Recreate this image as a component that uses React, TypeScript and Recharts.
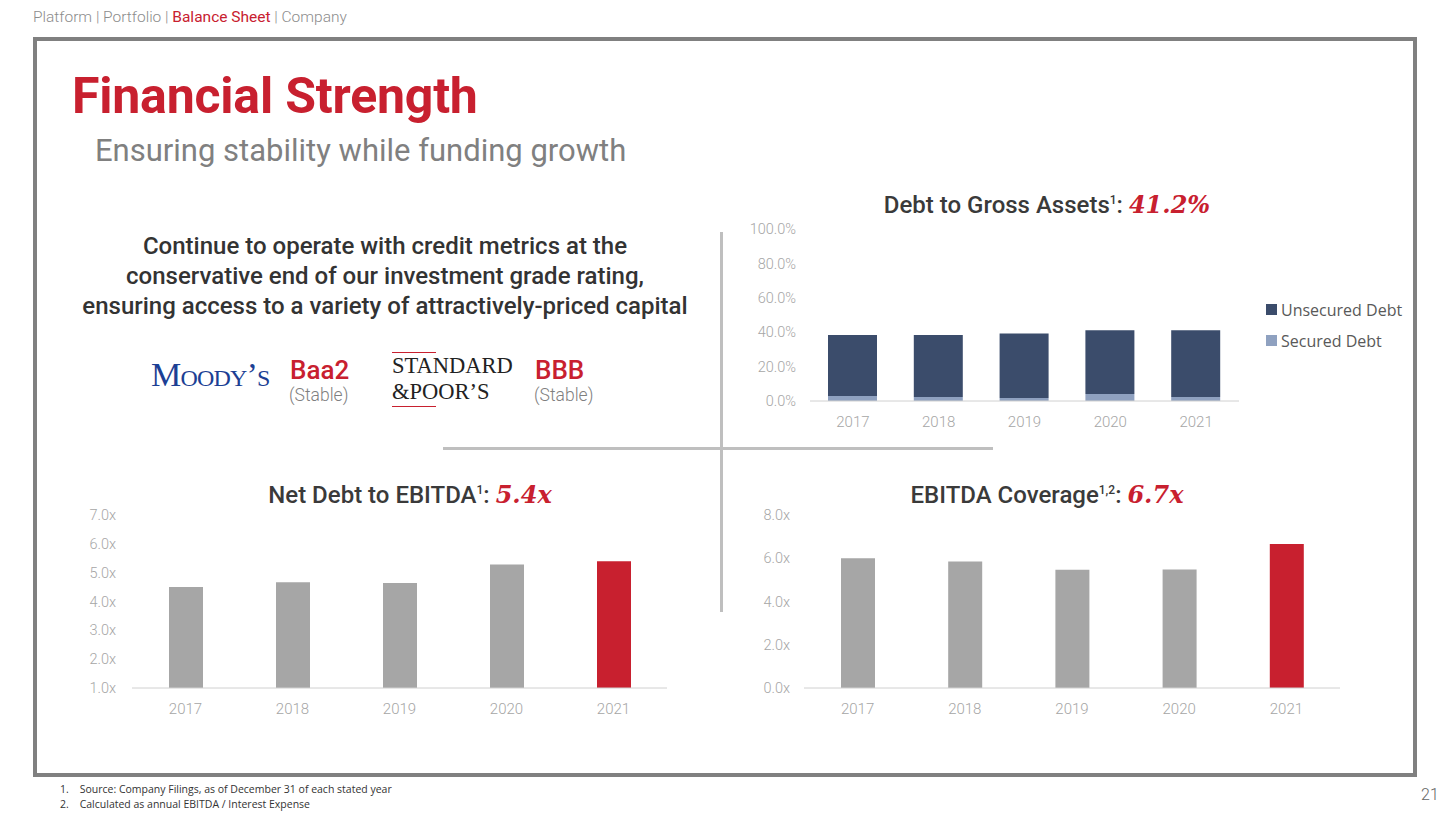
import React from 'react';
import { Bar, BarChart, Cell, Legend, XAxis, YAxis } from 'recharts';

const years = ['2017', '2018', '2019', '2020', '2021'];
// Debt to gross assets, %
const securedDebt = [2.9, 2.3, 1.8, 4.1, 2.3];
const unsecuredDebt = [35.4, 36.0, 37.5, 37.1, 38.9];
// Net debt to EBITDA, x
const netDebtToEbitda = [4.5, 4.67, 4.64, 5.28, 5.4];
// EBITDA coverage, x
const ebitdaCoverage = [6.0, 5.85, 5.47, 5.48, 6.66];

const pctTicks = [0, 20, 40, 60, 80, 100];
const leverageTicks = [1, 2, 3, 4, 5, 6, 7];
const coverageTicks = [0, 2, 4, 6, 8];

const RED = '#c8202f';
const GREY_BAR = '#a6a6a6';
const NAVY = '#3b4c6b';
const LIGHT_NAVY = '#8fa1c0';
const DIN = 'Roboto, "Noto Sans", sans-serif';

const debtData = years.map((year, i) => ({
  year,
  secured: securedDebt[i],
  unsecured: unsecuredDebt[i],
}));
const leverageData = years.map((year, i) => ({ year, value: netDebtToEbitda[i] }));
const coverageData = years.map((year, i) => ({ year, value: ebitdaCoverage[i] }));

const tickStyle = { fill: '#a6a6a6', fontSize: 14.5, fontFamily: DIN, fontWeight: 300 };
const xTickStyle = { fill: '#a6a6a6', fontSize: 15, fontFamily: DIN, fontWeight: 300 };

const pct = (v: number) => `${v.toFixed(1)}%`;
const times = (v: number) => `${v.toFixed(1)}x`;

function ChartTitle({ label, sup, value, x, y }: { label: string; sup: string; value: string; x: number; y: number }) {
  return (
    <div
      style={{
        position: 'absolute',
        left: x - 300,
        top: y,
        width: 600,
        textAlign: 'center',
        fontFamily: DIN,
        fontSize: 24,
        fontWeight: 500,
        color: '#3a3a3a',
        whiteSpace: 'nowrap',
      }}
    >
      {label}
      <sup style={{ fontSize: 12 }}>{sup}</sup>:{' '}
      <span
        style={{
          fontFamily: '"DejaVu Serif", "Liberation Serif", serif',
          fontStyle: 'italic',
          fontWeight: 700,
          color: RED,
          fontSize: 24,
        }}
      >
        {value}
      </span>
    </div>
  );
}

function DebtLegend(props: any) {
  const items = [...(props.payload || [])].reverse();
  return (
    <div style={{ fontFamily: '"Open Sans", sans-serif', fontSize: 16, color: '#595959' }}>
      {items.map((item: any) => (
        <div key={item.value} style={{ display: 'flex', alignItems: 'center', height: 31 }}>
          <span style={{ width: 11, height: 11, background: item.color, marginRight: 4 }} />
          {item.value}
        </div>
      ))}
    </div>
  );
}

export default function App() {
  return (
    <div
      style={{
        position: 'absolute',
        left: 0,
        top: 0,
        width: 1451,
        height: 813,
        background: '#fff',
        fontFamily: DIN,
        overflow: 'hidden',
      }}
    >
      {/* top nav */}
      <div style={{ position: 'absolute', left: 33, top: 8, fontSize: 15.5, color: '#8c8c8c', fontWeight: 300 }}>
        Platform | Portfolio | <span style={{ color: RED, fontWeight: 400 }}>Balance Sheet</span> | Company
      </div>

      {/* frame */}
      <div
        style={{
          position: 'absolute',
          left: 33,
          top: 37,
          width: 1376,
          height: 732,
          border: '4px solid #808080',
        }}
      />

      <div style={{ position: 'absolute', left: 72, top: 67, fontSize: 50, fontWeight: 700, color: RED, letterSpacing: -0.2 }}>
        Financial Strength
      </div>
      <div style={{ position: 'absolute', left: 95, top: 132, fontSize: 31, fontWeight: 400, color: '#808080' }}>
        Ensuring stability while funding growth
      </div>

      <div
        style={{
          position: 'absolute',
          left: 45,
          top: 231,
          width: 680,
          textAlign: 'center',
          fontSize: 24,
          fontWeight: 500,
          color: '#333',
          lineHeight: '30px',
        }}
      >
        Continue to operate with credit metrics at the
        <br />
        conservative end of our investment grade rating,
        <br />
        ensuring access to a variety of attractively-priced capital
      </div>

      {/* ratings */}
      <div
        style={{
          position: 'absolute',
          left: 151,
          top: 356,
          fontFamily: '"Liberation Serif", serif',
          fontVariant: 'small-caps',
          fontSize: 34,
          color: '#1c3f94',
          letterSpacing: -0.8,
        }}
      >
        Moody’s
      </div>
      <div style={{ position: 'absolute', left: 290, top: 355, fontSize: 26, fontWeight: 500, color: RED }}>Baa2</div>
      <div style={{ position: 'absolute', left: 289, top: 385, fontSize: 17.5, fontWeight: 300, color: '#7f7f7f' }}>(Stable)</div>

      <div style={{ position: 'absolute', left: 392, top: 352, width: 44, height: 1, background: RED }} />
      <div
        style={{
          position: 'absolute',
          left: 392,
          top: 353,
          fontFamily: '"Liberation Serif", serif',
          fontSize: 22.5,
          lineHeight: '26px',
          color: '#222',
        }}
      >
        STANDARD
        <br />
        &amp;POOR’S
      </div>
      <div style={{ position: 'absolute', left: 392, top: 406, width: 44, height: 1, background: RED }} />
      <div style={{ position: 'absolute', left: 535, top: 355, fontSize: 26, fontWeight: 500, color: RED }}>BBB</div>
      <div style={{ position: 'absolute', left: 534, top: 385, fontSize: 17.5, fontWeight: 300, color: '#7f7f7f' }}>(Stable)</div>

      {/* dividers */}
      <div style={{ position: 'absolute', left: 720, top: 232, width: 3, height: 380, background: '#bfbfbf' }} />
      <div style={{ position: 'absolute', left: 443, top: 447, width: 550, height: 3, background: '#bfbfbf' }} />

      {/* Debt to gross assets */}
      <ChartTitle label="Debt to Gross Assets" sup="1" value="41.2%" x={1047} y={190} />
      <div style={{ position: 'absolute', left: 730, top: 190 }}>
        <BarChart width={680} height={250} data={debtData} margin={{ top: 39, right: 171, left: 0, bottom: 0 }}>
          <XAxis
            dataKey="year"
            tickLine={false}
            axisLine={{ stroke: '#d0d0d0' }}
            tick={xTickStyle}
            tickMargin={9}
            height={39}
          />
          <YAxis
            domain={[0, 100]}
            ticks={pctTicks}
            tickFormatter={pct}
            tickLine={false}
            axisLine={false}
            tick={tickStyle}
            tickMargin={8}
            width={80}
          />
          <Legend
            layout="vertical"
            align="center"
            verticalAlign="middle"
            content={DebtLegend}
            wrapperStyle={{ left: 536, top: 104, width: 150 }}
          />
          <Bar dataKey="secured" name="Secured Debt" stackId="debt" fill={LIGHT_NAVY} barSize={49} isAnimationActive={false} />
          <Bar dataKey="unsecured" name="Unsecured Debt" stackId="debt" fill={NAVY} barSize={49} isAnimationActive={false} />
        </BarChart>
      </div>

      {/* Net debt to EBITDA */}
      <ChartTitle label="Net Debt to EBITDA" sup="1" value="5.4x" x={410} y={480} />
      <div style={{ position: 'absolute', left: 50, top: 480 }}>
        <BarChart width={640} height={250} data={leverageData} margin={{ top: 35, right: 23, left: 0, bottom: 0 }}>
          <XAxis
            dataKey="year"
            tickLine={false}
            axisLine={{ stroke: '#d0d0d0' }}
            tick={xTickStyle}
            tickMargin={9}
            height={42}
          />
          <YAxis
            domain={[1, 7]}
            ticks={leverageTicks}
            tickFormatter={times}
            tickLine={false}
            axisLine={false}
            tick={tickStyle}
            tickMargin={10}
            width={82}
          />
          <Bar dataKey="value" barSize={34} isAnimationActive={false}>
            {leverageData.map((d, i) => (
              <Cell key={d.year} fill={i === leverageData.length - 1 ? RED : GREY_BAR} />
            ))}
          </Bar>
        </BarChart>
      </div>

      {/* EBITDA coverage */}
      <ChartTitle label="EBITDA Coverage" sup="1,2" value="6.7x" x={1047} y={480} />
      <div style={{ position: 'absolute', left: 720, top: 480 }}>
        <BarChart width={640} height={250} data={coverageData} margin={{ top: 35, right: 20, left: 0, bottom: 0 }}>
          <XAxis
            dataKey="year"
            tickLine={false}
            axisLine={{ stroke: '#d0d0d0' }}
            tick={xTickStyle}
            tickMargin={9}
            height={42}
          />
          <YAxis
            domain={[0, 8]}
            ticks={coverageTicks}
            tickFormatter={times}
            tickLine={false}
            axisLine={false}
            tick={tickStyle}
            tickMargin={8}
            width={84}
          />
          <Bar dataKey="value" barSize={34} isAnimationActive={false}>
            {coverageData.map((d, i) => (
              <Cell key={d.year} fill={i === coverageData.length - 1 ? RED : GREY_BAR} />
            ))}
          </Bar>
        </BarChart>
      </div>

      {/* footnotes */}
      <div
        style={{
          position: 'absolute',
          left: 60,
          top: 782,
          fontFamily: '"Open Sans", sans-serif',
          fontSize: 10.5,
          lineHeight: '15px',
          color: '#333',
        }}
      >
        <div>1.&nbsp;&nbsp;&nbsp;&nbsp;Source: Company Filings, as of December 31 of each stated year</div>
        <div>2.&nbsp;&nbsp;&nbsp;&nbsp;Calculated as annual EBITDA / Interest Expense</div>
      </div>
      <div style={{ position: 'absolute', left: 1421, top: 785, fontSize: 16, fontWeight: 300, color: '#666' }}>21</div>
    </div>
  );
}
